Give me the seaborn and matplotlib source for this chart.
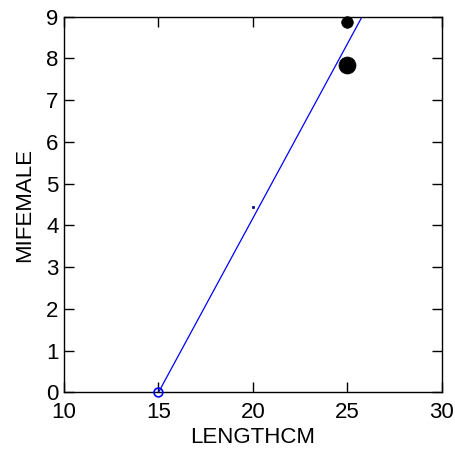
import pandas as pd
import matplotlib
matplotlib.use("Agg")
import matplotlib.pyplot as plt
import seaborn as sns

# observed points
length_cm = [20, 25, 25]
mi_female = [4.44, 7.84, 8.86]
point_size = [3, 150, 70]
point_color = ["#000080", "#000000", "#000000"]

# open point at the origin of the fit
open_x = [15]
open_y = [0]

# fitted line end points
fit_x = [15, 25.79]
fit_y = [0, 9]

sns.set_style("ticks")
plt.rcParams["font.family"] = ["Liberation Sans", "DejaVu Sans"]
plt.rcParams["text.color"] = "black"
plt.rcParams["axes.labelcolor"] = "black"

fig = plt.figure(figsize=(4.55, 4.5), dpi=100)
ax = fig.add_axes([0.1407, 0.1278, 0.83, 0.8355])

df = pd.DataFrame({"LENGTHCM": length_cm, "MIFEMALE": mi_female, "s": point_size})
sns.lineplot(x=fit_x, y=fit_y, ax=ax, color="#0000ff", linewidth=0.9)
for i, row in df.iterrows():
    sns.scatterplot(x=[row["LENGTHCM"]], y=[row["MIFEMALE"]], ax=ax, s=row["s"],
                    color=point_color[i], edgecolor=point_color[i], linewidth=0.5,
                    zorder=3, clip_on=False)
sns.scatterplot(x=open_x, y=open_y, ax=ax, s=40, facecolor="none",
                edgecolor="#0000ff", linewidth=1.2, zorder=4, clip_on=False)

ax.set_xlim(10, 30)
ax.set_ylim(0, 9)
ax.set_xticks([10, 15, 20, 25, 30])
ax.set_yticks(range(0, 10))
ax.tick_params(direction="in", length=7, width=1, top=True, right=True,
               labelsize=16, labelcolor="black", colors="black")
ax.tick_params(axis="x", pad=7)
ax.tick_params(axis="y", pad=4)
for sp in ax.spines.values():
    sp.set_linewidth(1)
    sp.set_color("black")
ax.set_xlabel("LENGTHCM", fontsize=16, labelpad=3)
ax.set_ylabel("MIFEMALE", fontsize=16, labelpad=8)

fig.savefig("out.png", dpi=100)
